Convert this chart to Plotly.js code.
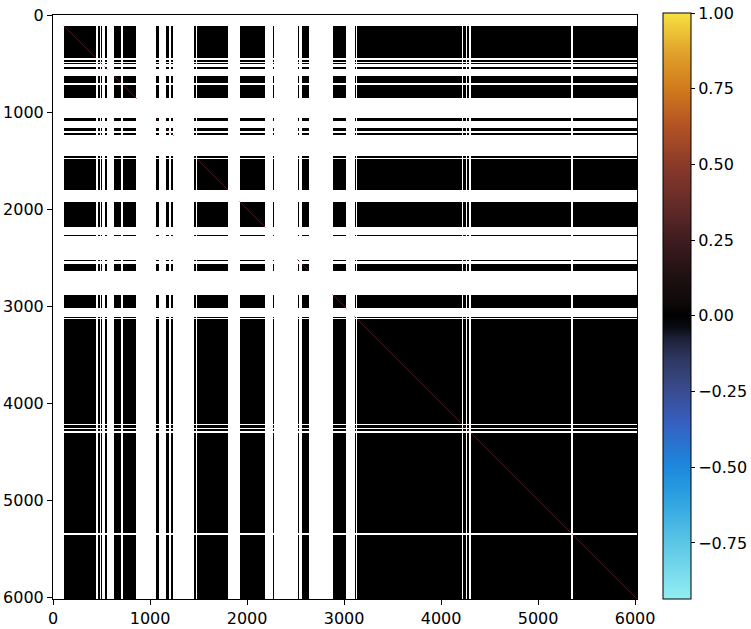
<!DOCTYPE html>
<html>
<head>
<meta charset="utf-8">
<script src="https://cdn.plot.ly/plotly-3.0.1.min.js"></script>
<style>html,body{margin:0;padding:0;background:#fff;}#chart{width:751px;height:629px;}</style>
</head>
<body>
<div id="chart"></div>
<script>
// Index ranges (rows = columns) holding valid correlation values; everything else is NaN (white)
const validStarts = [111, 465, 492, 533, 633, 726, 1066, 1169, 1213, 1457, 1488, 1924, 2271, 2521, 2566, 2882, 3108, 3136, 4230, 4268, 4310, 5355];
const validEnds   = [438, 479, 507, 558, 702, 860, 1087, 1196, 1241, 1471, 1804, 2188, 2278, 2539, 2634, 3023, 3118, 4212, 4252, 4288, 5337, 6019.5];
// Off-diagonal correlation level inside valid blocks
const blockValue = 0.0;
const matrixSize = 6020;
const colorbarTicks = [-0.75, -0.5, -0.25, 0, 0.25, 0.5, 0.75, 1.0];
const axisTicks = [0, 1000, 2000, 3000, 4000, 5000, 6000];
const zMin = -0.935, zMax = 1.0;

// build bin edges and validity flags
const edges = [-0.5];
const flags = [];
for (let i = 0; i < validStarts.length; i++) {
  const prev = edges[edges.length - 1];
  if (validStarts[i] > prev) { edges.push(validStarts[i]); flags.push(false); }
  edges.push(validEnds[i]); flags.push(true);
}
if (edges[edges.length - 1] < matrixSize - 0.5) { edges.push(matrixSize - 0.5); flags.push(false); }

const z = flags.map(rf => flags.map(cf => (rf && cf) ? blockValue : null));

const zeroPos = (0 - zMin) / (zMax - zMin);
const colorscale = [
  [0.00, '#93eef2'],
  [0.10, '#58c4e6'],
  [0.18, '#2a9ee0'],
  [0.23, '#1d86dc'],
  [0.30, '#3560c0'],
  [0.36, '#3a4a8c'],
  [0.41, '#2e3760'],
  [0.445, '#1c2036'],
  [zeroPos - 0.02, '#0a0b12'],
  [zeroPos, '#000000'],
  [zeroPos + 0.025, '#0f0a0a'],
  [0.56, '#221214'],
  [0.61, '#3e1c1f'],
  [0.67, '#622a28'],
  [0.74, '#8a3a2a'],
  [0.81, '#b45424'],
  [0.87, '#cf7a1c'],
  [0.93, '#e0a02a'],
  [1.00, '#f7e043']
];

const heat = {
  type: 'heatmap',
  x: edges, y: edges, z: z,
  zmin: zMin, zmax: zMax,
  colorscale: colorscale,
  hoverongaps: false,
  colorbar: {
    x: (663 - 53) / 584, xanchor: 'left', xpad: 0,
    y: (599 - 306) / 584, yanchor: 'middle', ypad: 0,
    len: 586 / 584, lenmode: 'fraction', thickness: 28, thicknessmode: 'pixels',
    outlinewidth: 1, outlinecolor: '#000',
    tickvals: colorbarTicks,
    ticktext: colorbarTicks.map(v => (v < 0 ? '\u2212' : '') + Math.abs(v).toFixed(2)),
    ticks: 'outside', ticklen: 4, tickcolor: '#000',
    tickfont: { family: 'DejaVu Sans', size: 16, color: '#000' }
  }
};

// diagonal (self-correlation) drawn for each valid range
const diagX = [], diagY = [];
for (let i = 0; i < validStarts.length; i++) {
  diagX.push(validStarts[i], validEnds[i], null);
  diagY.push(validStarts[i], validEnds[i], null);
}
const diag = {
  type: 'scatter', mode: 'lines', x: diagX, y: diagY,
  line: { color: '#4c1c1c', width: 1 }, hoverinfo: 'skip', showlegend: false
};

const axisCommon = {
  tickvals: axisTicks, ticktext: axisTicks.map(String),
  ticks: 'outside', ticklen: 5, tickcolor: '#000', tickwidth: 1,
  showline: true, linecolor: '#000', linewidth: 1, mirror: true,
  showgrid: false, zeroline: false,
  tickfont: { family: 'DejaVu Sans', size: 16, color: '#000' }
};

const layout = {
  width: 751, height: 629,
  margin: { l: 53, r: 114, t: 15, b: 30, pad: 0, autoexpand: false },
  paper_bgcolor: '#fff', plot_bgcolor: '#fff',
  showlegend: false,
  xaxis: Object.assign({}, axisCommon, { range: [-0.5, matrixSize - 0.5], automargin: false }),
  yaxis: Object.assign({}, axisCommon, { range: [matrixSize - 0.5, -0.5], automargin: false })
};

Plotly.newPlot('chart', [heat, diag], layout, { displayModeBar: false, staticPlot: true });
</script>
</body>
</html>
